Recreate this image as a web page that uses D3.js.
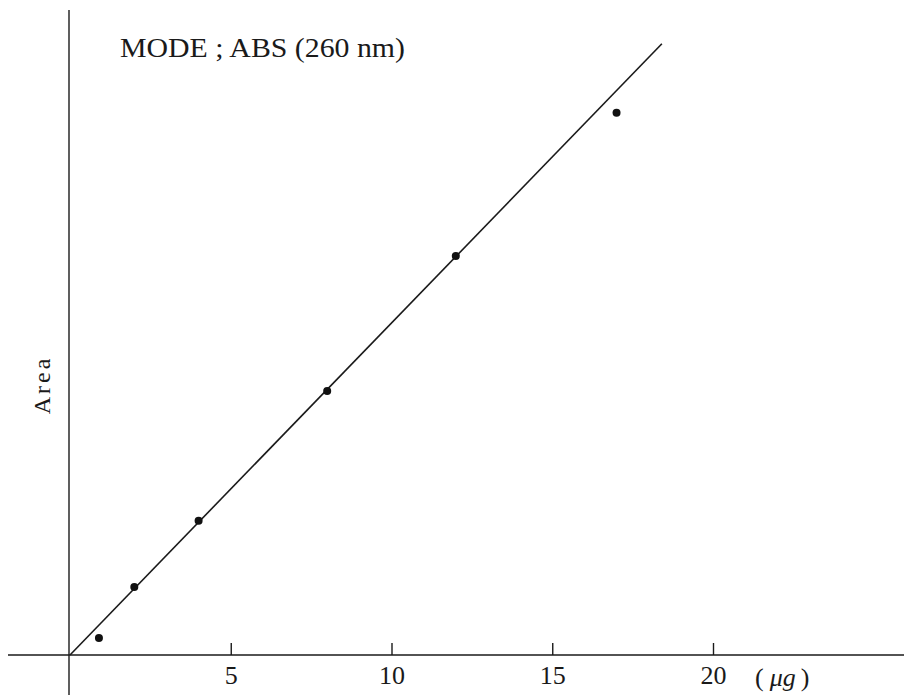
<!DOCTYPE html>
<html>
<head>
<meta charset="utf-8">
<script src="https://cdn.jsdelivr.net/npm/d3@7/dist/d3.min.js"></script>
<style>
  html, body { margin: 0; padding: 0; background: #ffffff; }
  svg { display: block; }
</style>
</head>
<body>
<svg id="chart" width="904" height="695"></svg>
<script>
// Data (x: amount in µg, y: peak area in arbitrary units)
const amounts = [0.9, 2, 4, 8, 12, 17];
const areas   = [0.51, 2.05, 4.04, 7.95, 12.02, 16.33];
const fitLine = [[0, 0], [18.41, 18.41]];
const xTickValues = [5, 10, 15, 20];
const titleText = "MODE ; ABS (260 nm)";
const yLabel = "Area";
const xUnit = "μg";

const svg = d3.select("#chart");
const W = 904, H = 695;
const ox = 70, oy = 655;

const x = d3.scaleLinear().domain([0, 20]).range([ox, ox + 20 * 32.15]);
const y = d3.scaleLinear().domain([0, 19.7]).range([oy, oy - 19.7 * 33.2]);

const ink = "#1a1a1a";
const serif = "'Liberation Serif', 'DejaVu Serif', serif";

// axes lines
svg.append("line").attr("x1", 8).attr("x2", W).attr("y1", oy).attr("y2", oy)
  .attr("stroke", ink).attr("stroke-width", 1.4);
svg.append("line").attr("x1", ox - 1).attr("x2", ox - 1).attr("y1", 10).attr("y2", H)
  .attr("stroke", ink).attr("stroke-width", 1.4);

// x axis ticks & labels
const xAxis = d3.axisBottom(x).tickValues(xTickValues).tickSizeInner(-12).tickSizeOuter(0).tickPadding(11);
const gx = svg.append("g").attr("transform", `translate(0,${oy})`).call(xAxis);
gx.select(".domain").remove();
gx.selectAll(".tick line").attr("stroke", ink).attr("stroke-width", 1.4);
gx.selectAll(".tick text").attr("fill", ink).attr("font-family", serif).attr("font-size", 26);

// unit label
const unit = svg.append("text").attr("x", x(20) + 42).attr("y", 686)
  .attr("font-family", serif).attr("font-size", 26).attr("fill", ink);
unit.append("tspan").text("(");
unit.append("tspan").attr("font-style", "italic").attr("dx", 6).text(xUnit);
unit.append("tspan").attr("dx", 5).text(")");

// y label
svg.append("text").attr("transform", `translate(50,385) rotate(-90)`)
  .attr("text-anchor", "middle").attr("font-family", serif).attr("font-size", 24)
  .attr("letter-spacing", 3).attr("fill", ink).text(yLabel);

// title / mode text
svg.append("text").attr("x", 120).attr("y", 57).attr("font-family", serif)
  .attr("font-size", 27).attr("fill", ink).attr("textLength", 285)
  .attr("lengthAdjust", "spacingAndGlyphs").text(titleText);

// fitted line
svg.append("path").datum(fitLine)
  .attr("d", d3.line().x(d => x(d[0])).y(d => y(d[1])))
  .attr("fill", "none").attr("stroke", ink).attr("stroke-width", 1.6);

// points
svg.selectAll("circle.pt").data(amounts.map((a, i) => [a, areas[i]])).enter()
  .append("circle").attr("class", "pt")
  .attr("cx", d => x(d[0])).attr("cy", d => y(d[1])).attr("r", 4).attr("fill", "#111");
</script>
</body>
</html>
